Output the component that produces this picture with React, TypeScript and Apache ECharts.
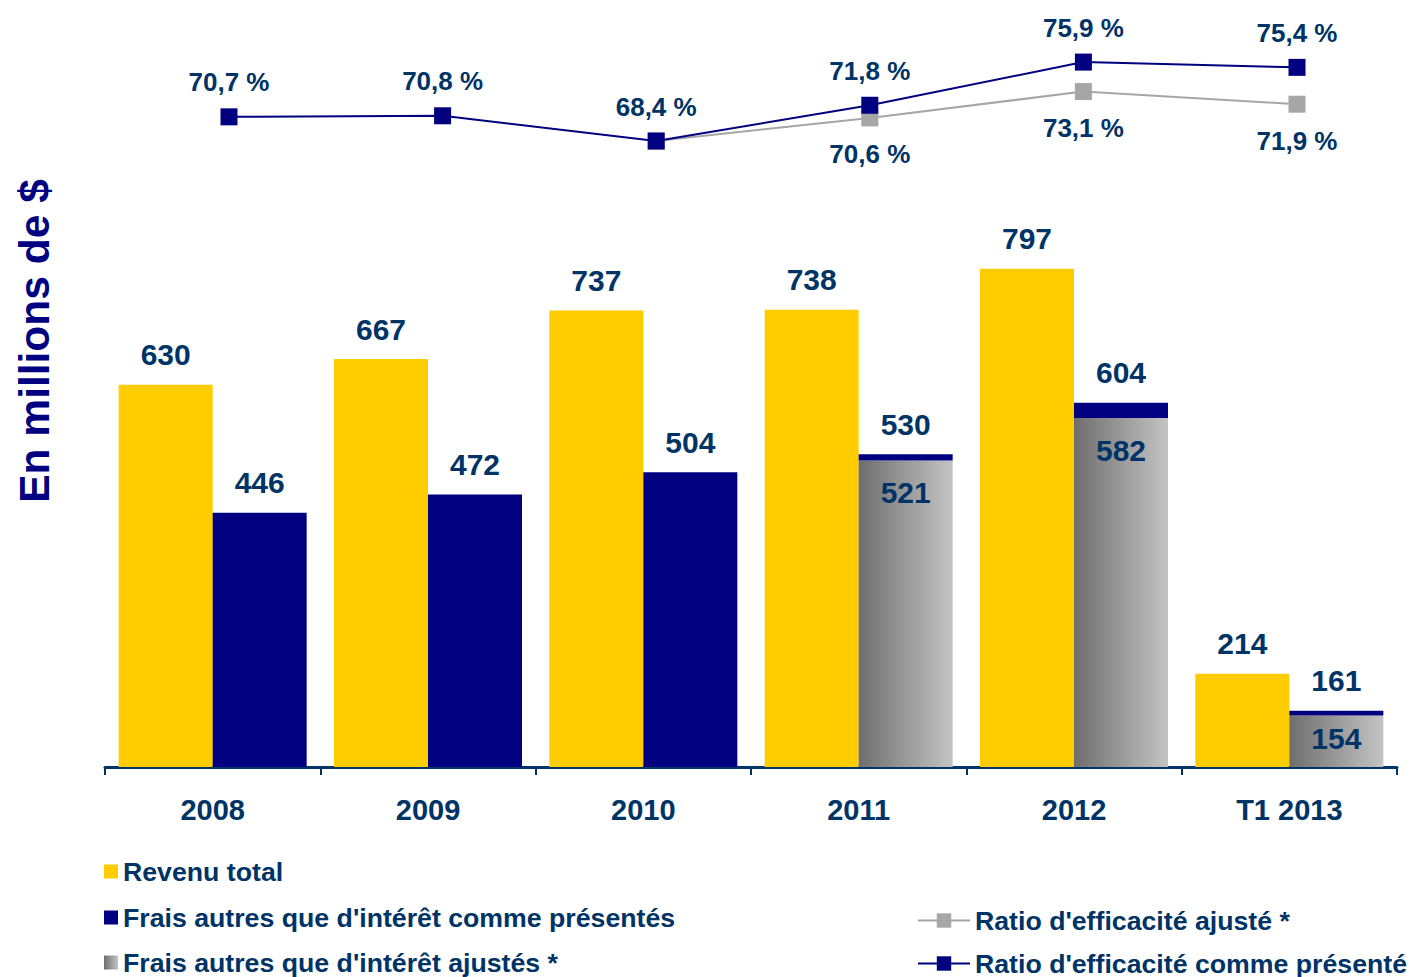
import React, { useEffect, useRef } from "react";
import * as echarts from "echarts";

const categories = ["2008", "2009", "2010", "2011", "2012", "T1 2013"];
const revenue = [630, 667, 737, 738, 797, 214];
const expensesReported = [446, 472, 504, 530, 604, 161];
const expensesAdjusted: (number | null)[] = [null, null, null, 521, 582, 154];
const ratioReported = [70.7, 70.8, 68.4, 71.8, 75.9, 75.4];
const ratioAdjusted: (number | null)[] = [null, null, 68.4, 70.6, 73.1, 71.9];

const NAMES = {
  rev: "Revenu total",
  expRep: "Frais autres que d'intérêt comme présentés",
  expAdj: "Frais autres que d'intérêt ajustés *",
  ratioAdj: "Ratio d'efficacité ajusté *",
  ratioRep: "Ratio d'efficacité comme présenté",
};

const FONT = "'Liberation Sans', Arial, Helvetica, sans-serif";
const TXT = "#003366";
const NAVY = "#000080";
const YELLOW = "#FFCC00";
const GREY_LINE = "#A6A6A6";

const fmtPct = (v: number) => v.toFixed(1).replace(".", ",") + " %";

export default function App() {
  const ref = useRef<HTMLDivElement>(null);
  useEffect(() => {
    if (!ref.current) return;
    const chart = echarts.init(ref.current, null, { renderer: "svg" });
    const greyGrad = new echarts.graphic.LinearGradient(0, 0, 1, 0, [
      { offset: 0, color: "#6E6E6E" },
      { offset: 1, color: "#C4C4C4" },
    ]);
    const navyStack = expensesReported.map((v, i) =>
      expensesAdjusted[i] == null ? v : v - (expensesAdjusted[i] as number)
    );
    const barLabel = {
      show: true,
      position: "top",
      distance: 15,
      color: TXT,
      fontFamily: FONT,
      fontWeight: "bold",
      fontSize: 30,
    };
    const legendBase = {
      padding: 0,
      selectedMode: false,
      itemGap: 0,
      textStyle: { color: TXT, fontFamily: FONT, fontWeight: "bold", fontSize: 26.7 },
    };
    const option: any = {
      animation: false,
      backgroundColor: "#ffffff",
      grid: [
        { left: 105, width: 1292, top: 211, bottom: 210 },
        { left: 122.2, width: 1281.6, top: 40, bottom: 810.7 },
      ],
      xAxis: [
        {
          type: "category",
          gridIndex: 0,
          data: categories,
          axisLine: { lineStyle: { color: TXT, width: 3 } },
          axisTick: { show: true, length: 8, lineStyle: { color: TXT, width: 2 } },
          axisLabel: {
            color: TXT,
            fontFamily: FONT,
            fontWeight: "bold",
            fontSize: 29,
            margin: 28,
          },
        },
        {
          type: "category",
          gridIndex: 1,
          data: categories,
          show: false,
        },
      ],
      yAxis: [
        { type: "value", gridIndex: 0, min: 80, max: 880, show: false },
        { type: "value", gridIndex: 1, min: 66, max: 78, show: false },
      ],
      legend: [
        { ...legendBase, data: [NAMES.rev], left: 104, top: 858, itemWidth: 14, itemHeight: 14, icon: "rect" },
        { ...legendBase, data: [NAMES.expRep], left: 104, top: 904, itemWidth: 14, itemHeight: 14, icon: "rect" },
        { ...legendBase, data: [NAMES.expAdj], left: 104, top: 949, itemWidth: 14, itemHeight: 14, icon: "rect" },
        { ...legendBase, data: [NAMES.ratioAdj], left: 917, top: 907, itemWidth: 52, itemHeight: 18 },
        { ...legendBase, data: [NAMES.ratioRep], left: 917, top: 950, itemWidth: 52, itemHeight: 18 },
      ],
      graphic: [
        {
          type: "text",
          x: 34,
          y: 341,
          rotation: Math.PI / 2,
          style: {
            text: "En millions de $",
            fill: NAVY,
            font: `bold 42.5px ${FONT}`,
            textAlign: "center",
            textVerticalAlign: "middle",
          },
        },
      ],
      series: [
        {
          name: NAMES.rev,
          type: "bar",
          xAxisIndex: 0,
          yAxisIndex: 0,
          data: revenue,
          barWidth: 94,
          barGap: "0%",
          itemStyle: { color: YELLOW },
          label: barLabel,
        },
        {
          name: NAMES.expAdj,
          type: "bar",
          stack: "exp",
          xAxisIndex: 0,
          yAxisIndex: 0,
          barWidth: 94,
          barGap: "0%",
          data: expensesAdjusted.map((v, i) =>
            i === categories.length - 1
              ? { value: v, label: { distance: 8 } }
              : v
          ),
          itemStyle: { color: greyGrad },
          label: { ...barLabel, position: "insideTop", distance: 17 },
        },
        {
          name: NAMES.expRep,
          type: "bar",
          stack: "exp",
          xAxisIndex: 0,
          yAxisIndex: 0,
          barWidth: 94,
          barGap: "0%",
          data: navyStack,
          itemStyle: { color: NAVY },
          label: {
            ...barLabel,
            formatter: (p: any) => String(expensesReported[p.dataIndex]),
          },
        },
        {
          name: NAMES.ratioAdj,
          type: "line",
          xAxisIndex: 1,
          yAxisIndex: 1,
          data: ratioAdjusted,
          symbol: "rect",
          symbolSize: 17,
          lineStyle: { color: GREY_LINE, width: 2 },
          itemStyle: { color: GREY_LINE },
          label: {
            show: true,
            position: "bottom",
            distance: 15,
            color: TXT,
            fontFamily: FONT,
            fontWeight: "bold",
            fontSize: 26,
            formatter: (p: any) => (p.dataIndex === 2 ? "" : fmtPct(p.value)),
          },
          z: 3,
        },
        {
          name: NAMES.ratioRep,
          type: "line",
          xAxisIndex: 1,
          yAxisIndex: 1,
          data: ratioReported,
          symbol: "rect",
          symbolSize: 17,
          lineStyle: { color: NAVY, width: 2 },
          itemStyle: { color: NAVY },
          label: {
            show: true,
            position: "top",
            distance: 13,
            color: TXT,
            fontFamily: FONT,
            fontWeight: "bold",
            fontSize: 26,
            formatter: (p: any) => fmtPct(p.value),
          },
          z: 4,
        },
      ],
    };
    chart.setOption(option);
    return () => chart.dispose();
  }, []);
  return (
    <div
      ref={ref}
      style={{ position: "fixed", left: 0, top: 0, width: 1410, height: 977 }}
    />
  );
}
